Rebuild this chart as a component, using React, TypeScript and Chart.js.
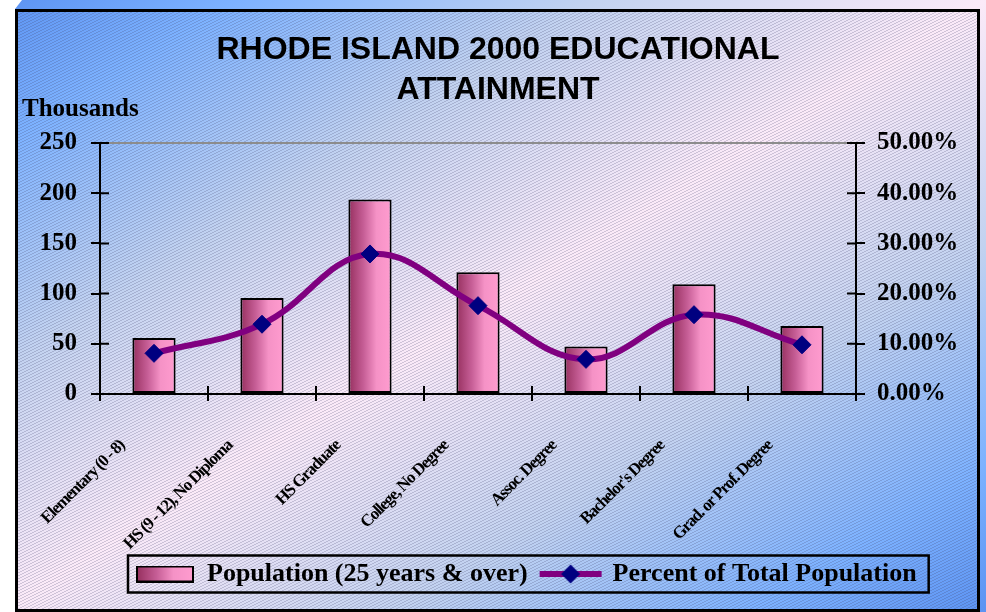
import { useEffect, useRef } from 'react';
import { Chart, registerables } from 'chart.js';

Chart.register(...registerables);

// ---------- data ----------
const categories = [
  'Elementary (0 - 8)',
  'HS (9 - 12), No Diploma',
  'HS Graduate',
  'College, No Degree',
  'Assoc. Degree',
  "Bachelor's Degree",
  'Grad. or Prof. Degree',
];
const population = [55.7, 95.7, 193.7, 121.3, 47.3, 109.3, 67.7]; // thousands
const percentOfTotal = [8.1, 13.9, 27.9, 17.6, 6.9, 15.8, 9.8]; // %
const titleLines = ['RHODE ISLAND 2000 EDUCATIONAL', 'ATTAINMENT'];
const seriesNames = ['Population (25 years & over)', 'Percent of Total Population'];
const unitLabel = 'Thousands';
const popAxis = { min: 0, max: 250, step: 50 };
const pctAxis = { min: 0, max: 50, step: 10 };

// ---------- styling ----------
const W = 986;
const H = 612;
const SERIF = '"Liberation Serif", "Times New Roman", Times, serif';
const SANS = '"Liberation Sans", Arial, Helvetica, sans-serif';
const BAR_FRACTION = 0.4;
const LINE_COLOR = '#800080';
const MARKER_COLOR = '#000080';

function barGradient(g: CanvasRenderingContext2D, x0: number, x1: number) {
  const gr = g.createLinearGradient(x0, 0, x1, 0);
  gr.addColorStop(0, '#96305f');
  gr.addColorStop(0.35, '#c65e96');
  gr.addColorStop(0.65, '#f592c6');
  gr.addColorStop(1, '#ff9ccf');
  return gr;
}

function makeBarSwatch() {
  const c = document.createElement('canvas');
  c.width = 58;
  c.height = 17;
  const g = c.getContext('2d')!;
  g.fillStyle = barGradient(g, 1, 57);
  g.fillRect(1, 1, 56, 15);
  g.strokeStyle = '#000';
  g.lineWidth = 2;
  g.strokeRect(1, 1, 56, 15);
  return c;
}

function makeLineSwatch() {
  const c = document.createElement('canvas');
  c.width = 64;
  c.height = 22;
  const g = c.getContext('2d')!;
  g.strokeStyle = LINE_COLOR;
  g.lineWidth = 6;
  g.beginPath();
  g.moveTo(1, 11);
  g.lineTo(63, 11);
  g.stroke();
  g.fillStyle = MARKER_COLOR;
  g.beginPath();
  g.moveTo(32, 1.5);
  g.lineTo(41.5, 11);
  g.lineTo(32, 20.5);
  g.lineTo(22.5, 11);
  g.closePath();
  g.fill();
  return c;
}

function makeHatch(ctx: CanvasRenderingContext2D) {
  const t = document.createElement('canvas');
  t.width = 6;
  t.height = 3;
  const g = t.getContext('2d')!;
  g.fillStyle = 'rgba(60,60,100,0.22)';
  [[0, 2], [1, 2], [2, 1], [3, 1], [4, 0], [5, 0]].forEach(([x, y]) => g.fillRect(x, y, 1, 1));
  return ctx.createPattern(t, 'repeat')!;
}

function bgGradient(ctx: CanvasRenderingContext2D) {
  const k = 2 / (1 / (W * W) + 1 / (H * H));
  const g = ctx.createLinearGradient(0, 0, k / W, k / H);
  g.addColorStop(0, '#5c93f2');
  g.addColorStop(0.12, '#7db2ff');
  g.addColorStop(0.3, '#c2d2f0');
  g.addColorStop(0.5, '#fbeaf8');
  g.addColorStop(0.7, '#c2d2f0');
  g.addColorStop(0.88, '#7db2ff');
  g.addColorStop(1, '#5c93f2');
  return g;
}

export default function App() {
  const ref = useRef<HTMLCanvasElement>(null);

  useEffect(() => {
    const canvas = ref.current;
    if (!canvas) return;
    const c2d = canvas.getContext('2d')!;
    const hatch = makeHatch(c2d);
    const barSwatch = makeBarSwatch();
    const lineSwatch = makeLineSwatch();
    const LEGEND_PAD = 14;
    const LEGEND_FONT = 26;

    const decor = {
      id: 'decor',
      beforeDraw(chart: any) {
        const ctx = chart.ctx as CanvasRenderingContext2D;
        const g = bgGradient(ctx);
        ctx.save();
        ctx.fillStyle = '#fff';
        ctx.fillRect(0, 0, W, H);
        ctx.fillStyle = g;
        ctx.beginPath();
        ctx.moveTo(15, 9);
        ctx.lineTo(22, 0);
        ctx.lineTo(W, 0);
        ctx.lineTo(W, H);
        ctx.lineTo(15, H);
        ctx.closePath();
        ctx.fill();
        ctx.fillRect(15, 9, 965, H - 9);
        ctx.fillStyle = hatch;
        ctx.fillRect(15, 9, 965, H - 9);
        ctx.strokeStyle = '#000';
        ctx.lineWidth = 3;
        ctx.strokeRect(16.5, 10.5, 962, 600);
        ctx.restore();
      },
      afterUpdate(chart: any) {
        const lg = chart.legend;
        if (!lg || !lg.legendHitBoxes || !lg.legendHitBoxes.length) return;
        const dx = 136 - lg.legendHitBoxes[0].left;
        const dy = 547 - lg.top;
        lg.left += dx;
        lg.right += dx;
        lg.top += dy;
        lg.bottom += dy;
        lg.legendHitBoxes.forEach((h: any) => {
          h.left += dx;
          h.top += dy;
        });
      },
      afterDraw(chart: any) {
        const ctx = chart.ctx as CanvasRenderingContext2D;
        const area = chart.chartArea;
        const xs = chart.scales.x;
        const ys = chart.scales.y;
        const y1 = chart.scales.y1;
        ctx.save();
        // plot-area top border
        ctx.strokeStyle = '#8c8c8c';
        ctx.lineWidth = 2;
        ctx.beginPath();
        ctx.moveTo(area.left, area.top);
        ctx.lineTo(area.right, area.top);
        ctx.stroke();
        // inner halves of the crossing tick marks
        ctx.strokeStyle = '#000';
        ctx.lineWidth = 2;
        ctx.beginPath();
        ys.ticks.forEach((t: any) => {
          const p = ys.getPixelForValue(t.value);
          ctx.moveTo(area.left, p);
          ctx.lineTo(area.left + 9, p);
        });
        y1.ticks.forEach((t: any) => {
          const p = y1.getPixelForValue(t.value);
          ctx.moveTo(area.right - 9, p);
          ctx.lineTo(area.right, p);
        });
        for (let i = 0; i <= categories.length; i++) {
          const p = xs.getPixelForValue(i - 0.5);
          ctx.moveTo(p, area.bottom - 8);
          ctx.lineTo(p, area.bottom);
        }
        ctx.stroke();
        // display-units label
        ctx.fillStyle = '#000';
        ctx.font = `bold 25px ${SERIF}`;
        ctx.textAlign = 'left';
        ctx.textBaseline = 'alphabetic';
        ctx.fillText(unitLabel, 22, 116);
        // legend frame
        const lg = chart.legend;
        if (lg && lg.legendHitBoxes && lg.legendHitBoxes.length) {
          const hb = lg.legendHitBoxes;
          const last = hb[hb.length - 1];
          const cy = lg.top + LEGEND_PAD + LEGEND_FONT / 2;
          const x0 = hb[0].left - 8;
          const x1 = last.left + last.width + 12;
          ctx.lineWidth = 2.5;
          ctx.strokeRect(x0, cy - 18.5, x1 - x0, 37);
        }
        ctx.restore();
      },
    };

    const chart = new Chart(canvas, {
      type: 'bar',
      data: {
        labels: categories,
        datasets: [
          {
            type: 'bar',
            label: seriesNames[0],
            data: population,
            yAxisID: 'y',
            order: 2,
            backgroundColor: (ctx: any) => {
              const ch = ctx.chart;
              const area = ch.chartArea;
              if (!area || ctx.type !== 'data') return '#f090c0';
              const cx = ch.scales.x.getPixelForValue(ctx.dataIndex);
              const half = ((area.width / categories.length) * BAR_FRACTION) / 2;
              return barGradient(ch.ctx, cx - half, cx + half);
            },
            borderColor: '#000',
            borderWidth: 2,
            borderSkipped: false,
            categoryPercentage: 1,
            barPercentage: BAR_FRACTION,
          } as any,
          {
            type: 'line',
            label: seriesNames[1],
            data: percentOfTotal,
            yAxisID: 'y1',
            order: 1,
            borderColor: LINE_COLOR,
            borderWidth: 6,
            tension: 0.4,
            fill: false,
            pointStyle: 'rectRot',
            pointRadius: 9,
            pointBackgroundColor: MARKER_COLOR,
            pointBorderColor: MARKER_COLOR,
            pointBorderWidth: 1,
          } as any,
        ],
      },
      options: {
        responsive: false,
        maintainAspectRatio: false,
        devicePixelRatio: 1,
        animation: false,
        events: [],
        layout: { padding: { left: 25, right: 15, top: 0, bottom: 3 } },
        scales: {
          x: {
            offset: true,
            ticks: {
              autoSkip: false,
              minRotation: 45,
              maxRotation: 45,
              padding: 35,
              labelOffset: -32,
              color: '#000',
              font: { family: SERIF, size: 17, weight: 'bold' },
            },
            grid: { drawOnChartArea: false, offset: true, tickLength: 7, color: '#000', lineWidth: 2 },
            border: { display: true, color: '#000', width: 2 },
            afterFit: (s: any) => {
              s.height = 165;
              if (!s.__condensed) {
                const orig = s.drawLabels.bind(s);
                s.drawLabels = (a: any) => {
                  const c = s.ctx as any;
                  const prev = c.letterSpacing;
                  c.letterSpacing = '-1.2px';
                  orig(a);
                  c.letterSpacing = prev || '0px';
                };
                s.__condensed = true;
              }
            },
          },
          y: {
            position: 'left',
            min: popAxis.min,
            max: popAxis.max,
            ticks: {
              stepSize: popAxis.step,
              padding: 14,
              color: '#000',
              font: { family: SERIF, size: 25, weight: 'bold' },
            },
            grid: { drawOnChartArea: false, tickLength: 9, color: '#000', lineWidth: 2 },
            border: { display: true, color: '#000', width: 2 },
            afterFit: (s: any) => {
              s.width = 75;
            },
          },
          y1: {
            position: 'right',
            min: pctAxis.min,
            max: pctAxis.max,
            ticks: {
              stepSize: pctAxis.step,
              padding: 12,
              color: '#000',
              font: { family: SERIF, size: 25, weight: 'bold' },
              callback: (v: any) => Number(v).toFixed(2) + '%',
            },
            grid: { drawOnChartArea: false, tickLength: 9, color: '#000', lineWidth: 2 },
            border: { display: true, color: '#000', width: 2 },
            afterFit: (s: any) => {
              s.width = 115;
            },
          },
        } as any,
        plugins: {
          title: {
            display: true,
            text: titleLines,
            color: '#000',
            font: { family: SANS, size: 32, weight: 'bold', lineHeight: 40 / 32 },
            padding: { top: 30, bottom: 33 },
          },
          legend: {
            position: 'bottom',
            onClick: () => {},
            labels: {
              usePointStyle: true,
              pointStyleWidth: 58,
              padding: LEGEND_PAD,
              color: '#000',
              font: { family: SERIF, size: LEGEND_FONT, weight: 'bold' },
              generateLabels: () => [
                {
                  text: seriesNames[0],
                  pointStyle: barSwatch,
                  fillStyle: '#f090c0',
                  strokeStyle: '#000',
                  lineWidth: 0,
                  hidden: false,
                  datasetIndex: 0,
                  fontColor: '#000',
                },
                {
                  text: seriesNames[1],
                  pointStyle: lineSwatch,
                  fillStyle: MARKER_COLOR,
                  strokeStyle: LINE_COLOR,
                  lineWidth: 0,
                  hidden: false,
                  datasetIndex: 1,
                  fontColor: '#000',
                },
              ],
            },
          } as any,
          tooltip: { enabled: false },
        },
      } as any,
      plugins: [decor],
    });

    return () => chart.destroy();
  }, []);

  return (
    <div style={{ position: 'fixed', left: 0, top: 0, width: W, height: H, background: '#fff' }}>
      <canvas ref={ref} width={W} height={H} style={{ display: 'block', width: W, height: H }} />
    </div>
  );
}
